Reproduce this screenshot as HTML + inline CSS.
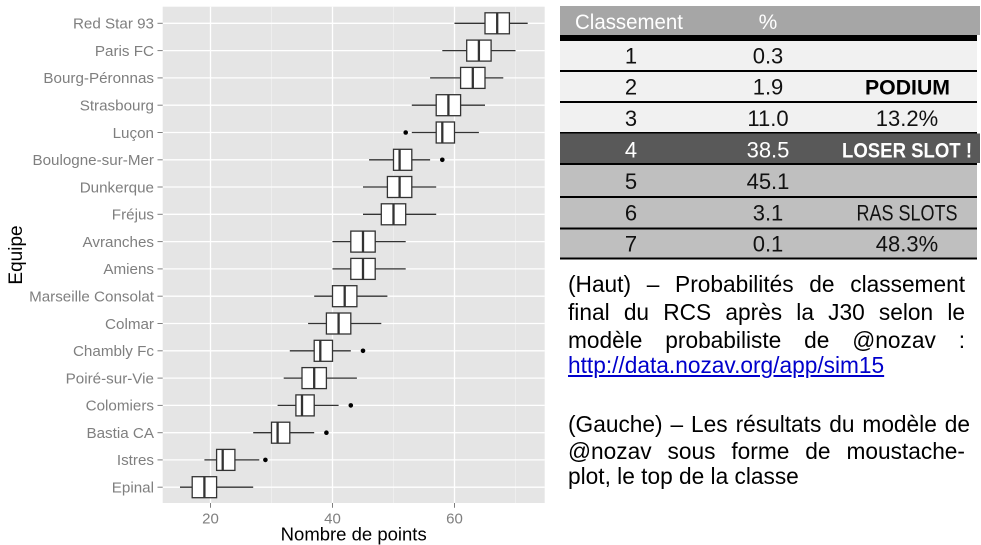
<!DOCTYPE html>
<html>
<head>
<meta charset="utf-8">
<style>
  html, body { margin:0; padding:0; background:#ffffff; }
  body { width:981px; height:545px; position:relative; overflow:hidden; font-family:"Liberation Sans", Arial, sans-serif; }
  svg { position:absolute; left:0; top:0; }
  .ln { position:absolute; left:568px; width:397px; height:28px; line-height:28px; font-size:22.7px; color:#000; text-align:justify; text-align-last:justify; white-space:normal; }
  .ln.left { text-align:left; text-align-last:left; }
  a { color:#0000cc; text-decoration:underline; }
</style>
</head>
<body>
<svg width="981" height="545" viewBox="0 0 981 545" xmlns="http://www.w3.org/2000/svg" font-family="Liberation Sans, Arial, sans-serif">
  <!-- Panel -->
  <rect x="162.7" y="6.7" width="382" height="496.3" fill="#e5e5e5"/>
  <!-- minor vertical grid -->
  <g stroke="#f2f2f2" stroke-width="0.7">
    <line x1="271.5" y1="6.7" x2="271.5" y2="503"/>
    <line x1="393.5" y1="6.7" x2="393.5" y2="503"/>
    <line x1="515.5" y1="6.7" x2="515.5" y2="503"/>
  </g>
  <!-- major vertical grid -->
  <g stroke="#ffffff" stroke-width="1.3">
    <line x1="210.5" y1="6.7" x2="210.5" y2="503"/>
    <line x1="332.5" y1="6.7" x2="332.5" y2="503"/>
    <line x1="454.5" y1="6.7" x2="454.5" y2="503"/>
  </g>
  <!-- horizontal grid -->
  <g stroke="#ffffff" stroke-width="1.3">
    <line x1="162.7" x2="544.7" y1="23.3" y2="23.3"/>
    <line x1="162.7" x2="544.7" y1="50.6" y2="50.6"/>
    <line x1="162.7" x2="544.7" y1="77.9" y2="77.9"/>
    <line x1="162.7" x2="544.7" y1="105.2" y2="105.2"/>
    <line x1="162.7" x2="544.7" y1="132.5" y2="132.5"/>
    <line x1="162.7" x2="544.7" y1="159.8" y2="159.8"/>
    <line x1="162.7" x2="544.7" y1="187.0" y2="187.0"/>
    <line x1="162.7" x2="544.7" y1="214.3" y2="214.3"/>
    <line x1="162.7" x2="544.7" y1="241.6" y2="241.6"/>
    <line x1="162.7" x2="544.7" y1="268.9" y2="268.9"/>
    <line x1="162.7" x2="544.7" y1="296.2" y2="296.2"/>
    <line x1="162.7" x2="544.7" y1="323.5" y2="323.5"/>
    <line x1="162.7" x2="544.7" y1="350.8" y2="350.8"/>
    <line x1="162.7" x2="544.7" y1="378.1" y2="378.1"/>
    <line x1="162.7" x2="544.7" y1="405.4" y2="405.4"/>
    <line x1="162.7" x2="544.7" y1="432.7" y2="432.7"/>
    <line x1="162.7" x2="544.7" y1="459.9" y2="459.9"/>
    <line x1="162.7" x2="544.7" y1="487.2" y2="487.2"/>
  </g>

  <!-- Boxplots -->
  <g stroke="#333333" stroke-width="1.3" fill="#ffffff">
    <line x1="454.5" x2="527.7" y1="23.3" y2="23.3"/>
    <rect x="485" y="12.8" width="24.4" height="21"/>
    <line x1="497.2" x2="497.2" y1="12.8" y2="33.8" stroke-width="2.3"/>
    <line x1="442.3" x2="515.5" y1="50.6" y2="50.6"/>
    <rect x="466.7" y="40.1" width="24.4" height="21"/>
    <line x1="478.9" x2="478.9" y1="40.1" y2="61.1" stroke-width="2.3"/>
    <line x1="430.1" x2="503.3" y1="77.9" y2="77.9"/>
    <rect x="460.6" y="67.4" width="24.4" height="21"/>
    <line x1="472.8" x2="472.8" y1="67.4" y2="88.4" stroke-width="2.3"/>
    <line x1="411.8" x2="485" y1="105.2" y2="105.2"/>
    <rect x="436.2" y="94.7" width="24.4" height="21"/>
    <line x1="448.4" x2="448.4" y1="94.7" y2="115.7" stroke-width="2.3"/>
    <line x1="411.8" x2="478.9" y1="132.5" y2="132.5"/>
    <rect x="436.2" y="122" width="18.3" height="21"/>
    <line x1="442.3" x2="442.3" y1="122" y2="143" stroke-width="2.3"/>
    <line x1="369.1" x2="430.1" y1="159.8" y2="159.8"/>
    <rect x="393.5" y="149.3" width="18.3" height="21"/>
    <line x1="399.6" x2="399.6" y1="149.3" y2="170.3" stroke-width="2.3"/>
    <line x1="363" x2="436.2" y1="187.0" y2="187.0"/>
    <rect x="387.4" y="176.5" width="24.4" height="21"/>
    <line x1="399.6" x2="399.6" y1="176.5" y2="197.5" stroke-width="2.3"/>
    <line x1="363" x2="436.2" y1="214.3" y2="214.3"/>
    <rect x="381.3" y="203.8" width="24.4" height="21"/>
    <line x1="393.5" x2="393.5" y1="203.8" y2="224.8" stroke-width="2.3"/>
    <line x1="332.5" x2="405.7" y1="241.6" y2="241.6"/>
    <rect x="350.8" y="231.1" width="24.4" height="21"/>
    <line x1="363" x2="363" y1="231.1" y2="252.1" stroke-width="2.3"/>
    <line x1="332.5" x2="405.7" y1="268.9" y2="268.9"/>
    <rect x="350.8" y="258.4" width="24.4" height="21"/>
    <line x1="363" x2="363" y1="258.4" y2="279.4" stroke-width="2.3"/>
    <line x1="314.2" x2="387.4" y1="296.2" y2="296.2"/>
    <rect x="332.5" y="285.7" width="24.4" height="21"/>
    <line x1="344.7" x2="344.7" y1="285.7" y2="306.7" stroke-width="2.3"/>
    <line x1="308.1" x2="381.3" y1="323.5" y2="323.5"/>
    <rect x="326.4" y="313" width="24.4" height="21"/>
    <line x1="338.6" x2="338.6" y1="313" y2="334" stroke-width="2.3"/>
    <line x1="289.8" x2="350.8" y1="350.8" y2="350.8"/>
    <rect x="314.2" y="340.3" width="18.3" height="21"/>
    <line x1="320.3" x2="320.3" y1="340.3" y2="361.3" stroke-width="2.3"/>
    <line x1="283.7" x2="356.9" y1="378.1" y2="378.1"/>
    <rect x="302" y="367.6" width="24.4" height="21"/>
    <line x1="314.2" x2="314.2" y1="367.6" y2="388.6" stroke-width="2.3"/>
    <line x1="277.6" x2="338.6" y1="405.4" y2="405.4"/>
    <rect x="295.9" y="394.9" width="18.3" height="21"/>
    <line x1="302" x2="302" y1="394.9" y2="415.9" stroke-width="2.3"/>
    <line x1="253.2" x2="314.2" y1="432.7" y2="432.7"/>
    <rect x="271.5" y="422.2" width="18.3" height="21"/>
    <line x1="277.6" x2="277.6" y1="422.2" y2="443.2" stroke-width="2.3"/>
    <line x1="204.4" x2="259.3" y1="459.9" y2="459.9"/>
    <rect x="216.6" y="449.4" width="18.3" height="21"/>
    <line x1="222.7" x2="222.7" y1="449.4" y2="470.4" stroke-width="2.3"/>
    <line x1="180" x2="253.2" y1="487.2" y2="487.2"/>
    <rect x="192.2" y="476.7" width="24.4" height="21"/>
    <line x1="204.4" x2="204.4" y1="476.7" y2="497.7" stroke-width="2.3"/>
  </g>
  <!-- Outliers -->
  <g fill="#000000">
    <circle cx="405.7" cy="132.5" r="2.3"/>
    <circle cx="442.3" cy="159.8" r="2.3"/>
    <circle cx="363" cy="350.8" r="2.3"/>
    <circle cx="350.8" cy="405.4" r="2.3"/>
    <circle cx="326.4" cy="432.7" r="2.3"/>
    <circle cx="265.4" cy="459.9" r="2.3"/>
  </g>

  <!-- Y ticks -->
  <g stroke="#7f7f7f" stroke-width="1">
    <line x1="157.5" x2="162.7" y1="23.3" y2="23.3"/>
    <line x1="157.5" x2="162.7" y1="50.6" y2="50.6"/>
    <line x1="157.5" x2="162.7" y1="77.9" y2="77.9"/>
    <line x1="157.5" x2="162.7" y1="105.2" y2="105.2"/>
    <line x1="157.5" x2="162.7" y1="132.5" y2="132.5"/>
    <line x1="157.5" x2="162.7" y1="159.8" y2="159.8"/>
    <line x1="157.5" x2="162.7" y1="187.0" y2="187.0"/>
    <line x1="157.5" x2="162.7" y1="214.3" y2="214.3"/>
    <line x1="157.5" x2="162.7" y1="241.6" y2="241.6"/>
    <line x1="157.5" x2="162.7" y1="268.9" y2="268.9"/>
    <line x1="157.5" x2="162.7" y1="296.2" y2="296.2"/>
    <line x1="157.5" x2="162.7" y1="323.5" y2="323.5"/>
    <line x1="157.5" x2="162.7" y1="350.8" y2="350.8"/>
    <line x1="157.5" x2="162.7" y1="378.1" y2="378.1"/>
    <line x1="157.5" x2="162.7" y1="405.4" y2="405.4"/>
    <line x1="157.5" x2="162.7" y1="432.7" y2="432.7"/>
    <line x1="157.5" x2="162.7" y1="459.9" y2="459.9"/>
    <line x1="157.5" x2="162.7" y1="487.2" y2="487.2"/>
    <line x1="210.5" x2="210.5" y1="503" y2="507.7"/>
    <line x1="332.5" x2="332.5" y1="503" y2="507.7"/>
    <line x1="454.5" x2="454.5" y1="503" y2="507.7"/>
  </g>
  <!-- Y labels -->
  <g fill="#7f7f7f" font-size="15.2" text-anchor="end">
    <text x="154" y="28.6">Red Star 93</text>
    <text x="154" y="55.9">Paris FC</text>
    <text x="154" y="83.2">Bourg-Péronnas</text>
    <text x="154" y="110.5">Strasbourg</text>
    <text x="154" y="137.8">Luçon</text>
    <text x="154" y="165.1">Boulogne-sur-Mer</text>
    <text x="154" y="192.3">Dunkerque</text>
    <text x="154" y="219.6">Fréjus</text>
    <text x="154" y="246.9">Avranches</text>
    <text x="154" y="274.2">Amiens</text>
    <text x="154" y="301.5">Marseille Consolat</text>
    <text x="154" y="328.8">Colmar</text>
    <text x="154" y="356.1">Chambly Fc</text>
    <text x="154" y="383.4">Poiré-sur-Vie</text>
    <text x="154" y="410.7">Colomiers</text>
    <text x="154" y="438.0">Bastia CA</text>
    <text x="154" y="465.2">Istres</text>
    <text x="154" y="492.5">Epinal</text>
  </g>
  <!-- X labels -->
  <g fill="#7f7f7f" font-size="15" text-anchor="middle">
    <text x="210.5" y="523.5">20</text>
    <text x="332.5" y="523.5">40</text>
    <text x="454.5" y="523.5">60</text>
  </g>
  <text x="353.7" y="540.5" font-size="18.5" fill="#000" text-anchor="middle">Nombre de points</text>
  <text transform="translate(22,255) rotate(-90)" font-size="19" fill="#000" text-anchor="middle">Equipe</text>

  <!-- Table -->
  <rect x="560" y="6" width="420" height="29" fill="#a6a6a6"/>
  <rect x="560" y="35" width="417" height="6" fill="#000"/>
  <rect x="560" y="41" width="417" height="29" fill="#f1f1f1"/>
  <rect x="560" y="70" width="417" height="2" fill="#000"/>
  <rect x="560" y="72" width="417" height="29" fill="#f1f1f1"/>
  <rect x="560" y="101" width="417" height="2" fill="#000"/>
  <rect x="560" y="103" width="417" height="29" fill="#f1f1f1"/>
  <rect x="560" y="132" width="417" height="1.5" fill="#000"/>
  <rect x="560" y="133.5" width="420" height="29.5" fill="#595959"/>
  <rect x="560" y="163" width="417" height="2" fill="#000"/>
  <rect x="560" y="165" width="417" height="31" fill="#bfbfbf"/>
  <rect x="560" y="196" width="417" height="2" fill="#000"/>
  <rect x="560" y="198" width="417" height="29.5" fill="#bfbfbf"/>
  <rect x="560" y="227.5" width="417" height="2" fill="#000"/>
  <rect x="560" y="229.5" width="417" height="28" fill="#bfbfbf"/>
  <rect x="560" y="257.5" width="417" height="2" fill="#000"/>

  <text x="575" y="28.8" font-size="21" fill="#ffffff" textLength="108" lengthAdjust="spacingAndGlyphs">Classement</text>
  <text x="768" y="28.8" font-size="21" fill="#ffffff" text-anchor="middle">%</text>

  <g font-size="22" fill="#111" text-anchor="middle">
    <text x="631" y="63.3">1</text>
    <text x="768" y="63.3">0.3</text>
    <text x="631" y="94.7">2</text>
    <text x="768" y="94.7">1.9</text>
    <text x="631" y="126.1">3</text>
    <text x="768" y="126.1">11.0</text>
    <text x="907" y="126.1">13.2%</text>
    <text x="631" y="157.5" fill="#ffffff">4</text>
    <text x="768" y="157.5" fill="#ffffff">38.5</text>
    <text x="631" y="188.9">5</text>
    <text x="768" y="188.9">45.1</text>
    <text x="631" y="220.3">6</text>
    <text x="768" y="220.3">3.1</text>
    <text x="907" y="220.3" textLength="101" lengthAdjust="spacingAndGlyphs">RAS SLOTS</text>
    <text x="631" y="251.7">7</text>
    <text x="768" y="251.7">0.1</text>
    <text x="907" y="251.7">48.3%</text>
  </g>
  <text x="907.5" y="94.7" font-size="21" font-weight="bold" fill="#000" text-anchor="middle" textLength="85" lengthAdjust="spacingAndGlyphs">PODIUM</text>
  <text x="907" y="157.5" font-size="21" font-weight="bold" fill="#ffffff" text-anchor="middle" textLength="130" lengthAdjust="spacingAndGlyphs">LOSER SLOT !</text>
</svg>

<div class="ln" style="top:270.4px;">(Haut) – Probabilités de classement</div>
<div class="ln" style="top:298.1px;">final du RCS après la J30 selon le</div>
<div class="ln" style="top:326.4px;">modèle probabiliste de @nozav :</div>
<div class="ln left" style="top:350.6px;"><a>http://data.nozav.org/app/sim15</a></div>
<div class="ln" style="top:409.8px; width:402px;">(Gauche) – Les résultats du modèle de</div>
<div class="ln" style="top:437.1px;">@nozav sous forme de moustache-</div>
<div class="ln left" style="top:462.1px;">plot, le top de la classe</div>
</body>
</html>
